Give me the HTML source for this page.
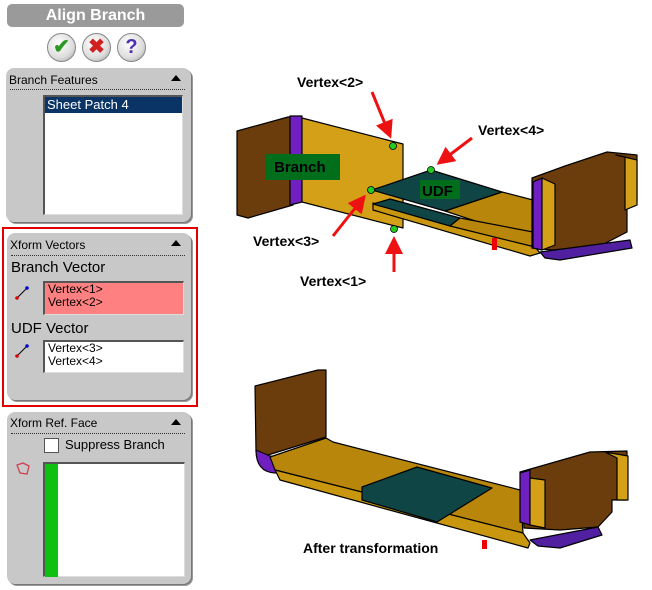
<!DOCTYPE html>
<html><head><style>
body{margin:0;width:652px;height:590px;background:#fff;position:relative;overflow:hidden;font-family:"Liberation Sans",sans-serif}
.a{position:absolute}
.panel{position:absolute;background:#c8c8c8;border-radius:8px;box-shadow:1px 1px 0 #777,2px 2px 0 #999}
.hdr{position:absolute;left:3px;font-size:12px;color:#000}
.dot{position:absolute;left:4px;right:6px;border-top:1px dotted #333}
.box{position:absolute;background:#fff;border-top:2px solid #555;border-left:2px solid #555;border-right:1px solid #ddd;border-bottom:1px solid #ddd;box-sizing:border-box}
.tri{position:absolute;right:10px;width:0;height:0;border-left:5px solid transparent;border-right:5px solid transparent;border-bottom:6px solid #000}
.btn{position:absolute;width:27px;height:27px;border-radius:50%;background:radial-gradient(circle at 40% 35%,#fff,#ddd 60%,#999);border:1px solid #888;text-align:center;line-height:27px;font-weight:bold;font-size:20px}
.lbl{position:absolute;font-weight:bold;font-size:14px;color:#000}
</style></head><body>
<div class="a" style="left:7px;top:4px;width:177px;height:23px;background:#9a9a9a;border-radius:5px;color:#fff;font-weight:bold;font-size:16px;text-align:center;line-height:23px">Align Branch</div>
<div class="btn" style="left:47px;top:33px;color:#2a9a20">✔</div>
<div class="btn" style="left:82px;top:33px;color:#d02020">✖</div>
<div class="btn" style="left:117px;top:33px;color:#5030b0">?</div>

<div class="panel" style="left:6px;top:68px;width:185px;height:154px">
<div class="hdr" style="top:5px">Branch Features</div><div class="tri" style="top:7px"></div>
<div class="dot" style="top:21px"></div>
<div class="box" style="left:37px;top:27px;width:140px;height:120px"><div style="background:#0a3466;color:#fff;font-size:13px;padding-left:2px;height:16px;line-height:16px">Sheet Patch 4</div></div>
</div>

<div class="a" style="left:2px;top:227px;width:192px;height:176px;border:2px solid #e00000"></div>
<div class="panel" style="left:7px;top:233px;width:184px;height:167px">
<div class="hdr" style="top:5px">Xform Vectors</div><div class="tri" style="top:7px"></div>
<div class="dot" style="top:22px"></div>
<div class="a" style="left:4px;top:26px;font-size:15px">Branch Vector</div>
<svg class="a" style="left:7px;top:52px" width="16" height="16"><line x1="3" y1="13" x2="13" y2="3" stroke="#000"/><circle cx="13" cy="3" r="1.8" fill="#00c"/><circle cx="3" cy="13" r="1.8" fill="#d00"/></svg>
<div class="box" style="left:36px;top:48px;width:141px;height:34px;background:#ff8080;font-size:12px;line-height:13px;padding-left:3px">Vertex&lt;1&gt;<br>Vertex&lt;2&gt;</div>
<div class="a" style="left:4px;top:87px;font-size:15px">UDF Vector</div>
<svg class="a" style="left:7px;top:110px" width="16" height="16"><line x1="3" y1="13" x2="13" y2="3" stroke="#000"/><circle cx="13" cy="3" r="1.8" fill="#00c"/><circle cx="3" cy="13" r="1.8" fill="#d00"/></svg>
<div class="box" style="left:36px;top:107px;width:141px;height:33px;font-size:12px;line-height:13px;padding-left:3px">Vertex&lt;3&gt;<br>Vertex&lt;4&gt;</div>
</div>

<div class="panel" style="left:7px;top:412px;width:184px;height:172px">
<div class="hdr" style="top:4px">Xform Ref. Face</div><div class="tri" style="top:7px"></div>
<div class="dot" style="top:21px"></div>
<div class="a" style="left:37px;top:26px;width:13px;height:13px;background:#fff;border:1px solid #555"></div>
<div class="a" style="left:58px;top:25px;font-size:13px">Suppress Branch</div>
<svg class="a" style="left:8px;top:50px" width="16" height="14"><path d="M2 3 L8 1 L14 4 L12 12 L5 11 Z" fill="none" stroke="#d04050" stroke-width="1.3"/></svg>
<div class="box" style="left:36px;top:50px;width:142px;height:115px"><div style="position:absolute;left:0;top:0;width:13px;height:113px;background:#10c010"></div></div>
</div>

<svg class="a" style="left:0;top:0" width="652" height="590">
<defs><marker id="ar" markerWidth="6" markerHeight="6" refX="5" refY="3" orient="auto"><path d="M0,0 L6,3 L0,6 Z" fill="#ee1111"/></marker></defs>
<g stroke="#000" stroke-width="1.2" stroke-linejoin="round">
<!-- top drawing -->
<polygon points="237,131 288,117 293,117 293,205 248,218 237,215" fill="#6b3c0c"/>
<polygon points="290,116 302,116 302,202 290,205" fill="#7020c0"/>
<polygon points="302,118 395,142 403,144 403,228 395,226 302,202" fill="#d4a017"/>
<polygon points="373,203 535,247 540,253 530,256 373,210" fill="#c8960f"/>
<polygon points="445,211 502,192 533,200 533,240" fill="#b8860b"/>
<polygon points="372,190 431,170 502,192 445,211" fill="#0f4545"/>
<polygon points="373,204 390,199 460,218 450,226" fill="#0f4545"/>
<polygon points="450,226 460,218 533,232 535,247" fill="#b8860b"/>
<polygon points="532,178 565,166 607,152 637,155 637,202 627,207 627,232 600,246 552,250 532,248" fill="#6b3c0c"/>
<polygon points="533,182 542,178 542,250 533,248" fill="#7020c0"/>
<polygon points="542,178 555,184 555,245 542,250" fill="#d4a017"/>
<polygon points="616,155 637,160 637,205 625,210 625,157" fill="#d4a017"/>
<polygon points="540,252 630,240 632,248 560,260 545,258" fill="#5020a0"/>
<!-- bottom drawing -->
<polygon points="255,386 318,370 326,370 326,437 268,455 256,452" fill="#6b3c0c"/>
<path d="M256,450 Q256,472 275,473 L300,467 L290,460 L270,456 Z" fill="#7020c0"/>
<polygon points="270,457 326,438 333,442 520,490 523,533 275,470" fill="#b8860b"/>
<polygon points="275,470 523,533 530,543 528,548 280,480" fill="#c8960f"/>
<polygon points="362,487 417,467 492,488 437,522 362,500" fill="#0f4545"/>
<polygon points="520,472 590,452 627,451 627,500 612,500 612,512 598,527 560,530 524,528" fill="#6b3c0c"/>
<polygon points="520,473 530,470 530,525 520,522" fill="#7020c0"/>
<polygon points="530,478 545,480 545,528 530,525" fill="#d4a017"/>
<polygon points="605,452 628,456 628,500 617,500 617,458" fill="#d4a017"/>
<polygon points="530,540 598,527 602,535 560,548 538,546" fill="#5020a0"/>
</g>
<rect x="266" y="154" width="74" height="26" fill="#006e1a"/>
<text x="274" y="172" font-size="15" font-weight="bold" font-family="Liberation Sans">Branch</text>
<rect x="420" y="180" width="40" height="19" fill="#006e1a"/>
<text x="422" y="196" font-size="15" font-weight="bold" font-family="Liberation Sans">UDF</text>
<rect x="492" y="238" width="5" height="12" fill="#e00"/>
<rect x="482" y="540" width="5" height="9" fill="#e00"/>
<g fill="#22cc22" stroke="#000" stroke-width="0.8">
<circle cx="393" cy="146" r="3.5"/><circle cx="431" cy="170" r="3.5"/><circle cx="371" cy="190" r="3.5"/><circle cx="394" cy="229" r="3.5"/></g>
<g stroke="#ee1111" stroke-width="3" marker-end="url(#ar)">
<line x1="372" y1="92" x2="390" y2="136"/>
<line x1="472" y1="138" x2="439" y2="163"/>
<line x1="333" y1="236" x2="364" y2="197"/>
<line x1="394" y1="272" x2="394" y2="239"/>
</g>
</svg>
<div class="lbl" style="left:297px;top:74px">Vertex&lt;2&gt;</div>
<div class="lbl" style="left:478px;top:122px">Vertex&lt;4&gt;</div>
<div class="lbl" style="left:253px;top:233px">Vertex&lt;3&gt;</div>
<div class="lbl" style="left:300px;top:273px">Vertex&lt;1&gt;</div>
<div class="lbl" style="left:303px;top:540px">After transformation</div>
</body></html>
